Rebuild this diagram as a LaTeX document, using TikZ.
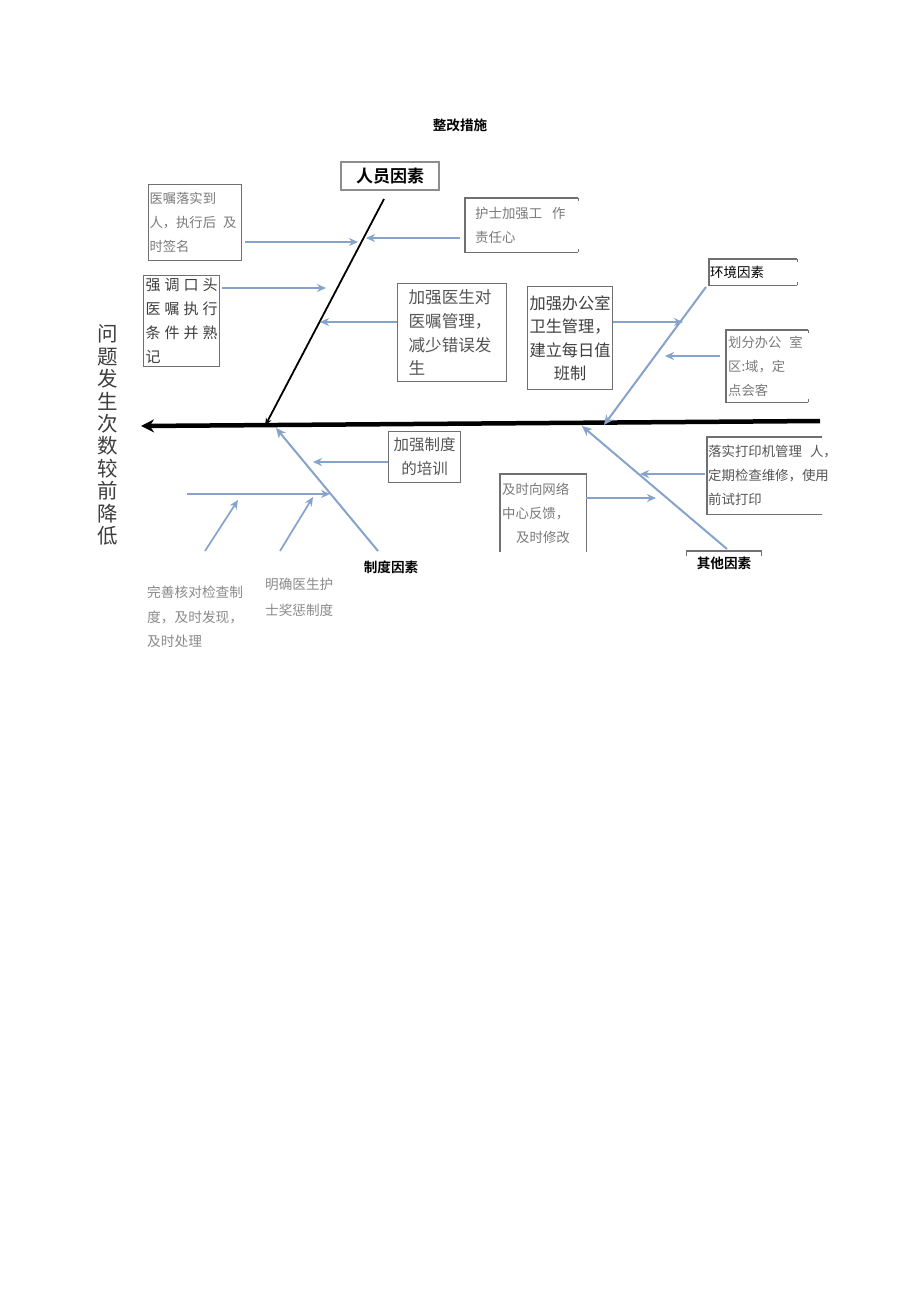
\documentclass[tikz,border=0pt]{standalone}
\usepackage{fontspec}
\setmainfont{Noto Sans CJK SC}[BoldFont={Noto Sans CJK SC Bold}]
\usetikzlibrary{arrows.meta}
\definecolor{bxc}{HTML}{707070}
\definecolor{arc}{HTML}{86A3CC}
\definecolor{txg}{HTML}{7A7A7A}
\definecolor{txm}{HTML}{555555}
\definecolor{txd}{HTML}{3E3E3E}
\definecolor{txl}{HTML}{8A8A8A}
\newcommand\myfs[2]{\fontsize{#1}{#2}\selectfont}
\begin{document}
\begin{tikzpicture}[x=1pt,y=-1pt,
  bx/.style={draw=bxc, line width=1.1pt, anchor=north west, inner ysep=0pt},
  nb/.style={anchor=north west, inner ysep=0pt},
  edge/.style={draw=bxc, line width=1.1pt},
  arr/.style={draw=arc, line width=1.7pt, -{Stealth[length=9pt,width=8pt]}},
  bone/.style={draw=arc, line width=2pt, -{Stealth[length=10pt,width=9pt]}},
  label/.style={font=\bfseries\myfs{13.6}{13.6}, text=black}]
\useasboundingbox (0,0) rectangle (920,1302);
\fill[white] (0,0) rectangle (920,1302);

% title
\node[label] (title) at (460,125) {整改措施};

% spine
\coordinate (spR) at (820,421);
\coordinate (spL) at (141,426);
\draw[line width=4.5pt, -{Stealth[length=13pt,width=13pt]}] (spR) -- (spL);

% vertical result text
\node[align=center, text=txd, font=\myfs{20.5}{22.4}, inner sep=0pt] (vt) at (108,435)
  {问\\题\\发\\生\\次\\数\\较\\前\\降\\低};

% ---------- 人员因素 ----------
\node[draw=bxc!80, line width=1.2pt, minimum width=98pt, minimum height=28pt, inner sep=0pt,
  font=\bfseries\myfs{17}{17}] (ry) at (390,176) {人员因素};
\coordinate (ryT) at (384,199);
\coordinate (ryB) at (265,426);
\draw[line width=1.8pt, -{Stealth[length=8pt,width=6pt]}] (ryT) -- (ryB);

\node[bx, minimum width=93pt, minimum height=76pt, inner xsep=1pt, text width=91pt, align=left,
  text=txg, font=\myfs{13.3}{24}] (b1) at (148,184) {医嘱落实到\\人，执行后\hspace{7pt}及\\时签名};
\coordinate (a1s) at (245,242); \coordinate (a1e) at (358,242);
\draw[arr] (a1s) -- (a1e);

\node[nb, minimum width=113pt, minimum height=54pt, inner xsep=10pt, text width=93pt, align=left,
  text=txg, font=\myfs{13.4}{24}] (b2) at (465,198) {护士加强工\hspace{10pt}作\\责任心};
\draw[edge] (b2.north east) -- (b2.north west) -- (b2.south west) -- (b2.south east);
\draw[edge] (b2.north east) -- ++(0,3);
\draw[edge] (b2.south east) -- ++(0,-3);
\coordinate (a2s) at (460,238); \coordinate (a2e) at (366,238);
\draw[arr] (a2s) -- (a2e);

\node[bx, minimum width=76pt, minimum height=91pt, inner xsep=2pt, text width=72pt, align=left,
  text=txd, font=\myfs{15}{24}] (b3) at (143,275)
  {\makebox[72pt]{强\hfill 调\hfill 口\hfill 头}\\\makebox[72pt]{医\hfill 嘱\hfill 执\hfill 行}\\\makebox[72pt]{条\hfill 件\hfill 并\hfill 熟}\\记};
\coordinate (a3s) at (222,288); \coordinate (a3e) at (326,288);
\draw[arr] (a3s) -- (a3e);

\node[bx, minimum width=109pt, minimum height=98pt, inner xsep=11pt, text width=87pt, align=left,
  text=txm, font=\myfs{16.6}{23.8}] (b4) at (397,283) {加强医生对\\医嘱管理，\\减少错误发\\生};
\coordinate (a4e) at (320,322);
\draw[arr] (b4.west |- a4e) -- (a4e);

% ---------- 环境因素 ----------
\node[bx, minimum width=85pt, minimum height=103pt, inner xsep=2pt, text width=81pt, align=center,
  text=txd, font=\myfs{16.2}{23.5}] (b5) at (527,286) {加强办公室\\卫生管理，\\建立每日值\\班制};
\coordinate (a5e) at (683,322);
\draw[arr] (b5.east |- a5e) -- (a5e);

\node[nb, minimum width=88pt, minimum height=26pt, inner xsep=1pt, text width=86pt, align=left,
  text=black, font=\myfs{13.5}{13.5}] (ev) at (709,259) {环境因素};
\draw[edge] (ev.north east) -- (ev.north west) -- (ev.south west) -- (ev.south east);
\draw[edge] (ev.north east) -- ++(0,3);
\draw[edge] (ev.south east) -- ++(0,-3);
\coordinate (evT) at (706,287); \coordinate (evB) at (604,425);
\draw[bone] (evT) -- (evB);

\node[nb, minimum width=82pt, minimum height=72pt, inner xsep=2pt, text width=78pt, align=left,
  text=txg, font=\myfs{13.3}{24}] (b6) at (726,330) {划分办公\hspace{8pt}室\\区:域，定\\点会客};
\draw[edge] (b6.north east) -- (b6.north west) -- (b6.south west) -- (b6.south east);
\draw[edge] (b6.north east) -- ++(0,3);
\draw[edge] (b6.south east) -- ++(0,-3);
\coordinate (a6s) at (720,356); \coordinate (a6e) at (665,356);
\draw[arr] (a6s) -- (a6e);

% ---------- 制度因素 ----------
\node[bx, minimum width=72pt, minimum height=51pt, inner xsep=2pt, text width=68pt, align=center,
  text=txm, font=\myfs{15.5}{24}] (b7) at (388,431) {加强制度\\的培训};
\coordinate (a7e) at (313,462);
\draw[arr] (b7.west |- a7e) -- (a7e);

\coordinate (zdT) at (378,551); \coordinate (zdB) at (276,428);
\draw[bone] (zdT) -- (zdB);
\node[label] (zd) at (391,567) {制度因素};

\coordinate (sbL) at (187,494); \coordinate (sbR) at (330,494);
\draw[arr] (sbL) -- (sbR);
\coordinate (s1s) at (205,551); \coordinate (s1e) at (238,500);
\draw[arr] (s1s) -- (s1e);
\coordinate (s2s) at (280,551); \coordinate (s2e) at (313,497);
\draw[arr] (s2s) -- (s2e);

\node[nb, inner xsep=0pt, align=left, text=txl, font=\myfs{13.7}{24.5}] (t1) at (147,586)
  {完善核对检查制\\度，及时发现，\\及时处理};
\node[nb, inner xsep=0pt, align=left, text=txl, font=\myfs{13.6}{26}] (t2) at (265,578)
  {明确医生护\\士奖惩制度};

% ---------- 其他因素 ----------
\coordinate (qtT) at (727,549); \coordinate (qtB) at (582,426);
\draw[bone] (qtT) -- (qtB);

\node[nb, inner xsep=1pt, text width=130pt, align=left, minimum height=77pt,
  text=txm, font=\myfs{13.4}{24}] (b8) at (707,437)
  {落实打印机管理\hspace{8pt}人，\\定期检查维修，使用\\前试打印};
\coordinate (rc) at (822,0);
\draw[edge] (b8.north west -| rc) -- (b8.north west) -- (b8.south west) -- (b8.south west -| rc);
\coordinate (a8s) at (705,474); \coordinate (a8e) at (640,474);
\draw[arr] (a8s) -- (a8e);

\node[nb, minimum width=86pt, minimum height=78pt, inner xsep=2pt, text width=82pt, align=left,
  text=txg, font=\myfs{13.4}{24}] (b9) at (500,474) {及时向网络\\中心反馈，\\\hspace*{14pt}及时修改};
\draw[edge] (b9.south west) -- (b9.north west) -- (b9.north east) -- (b9.south east);
\coordinate (a9e) at (656,498);
\draw[arr] (b9.east |- a9e) -- (a9e);

\node[anchor=north, minimum width=74pt, minimum height=24pt, inner sep=0pt, label] (qt) at (724,551) {其他因素};
\draw[edge] ([yshift=-5pt]qt.north west) -- (qt.north west) -- (qt.north east) -- ([yshift=-5pt]qt.north east);
\end{tikzpicture}
\end{document}
